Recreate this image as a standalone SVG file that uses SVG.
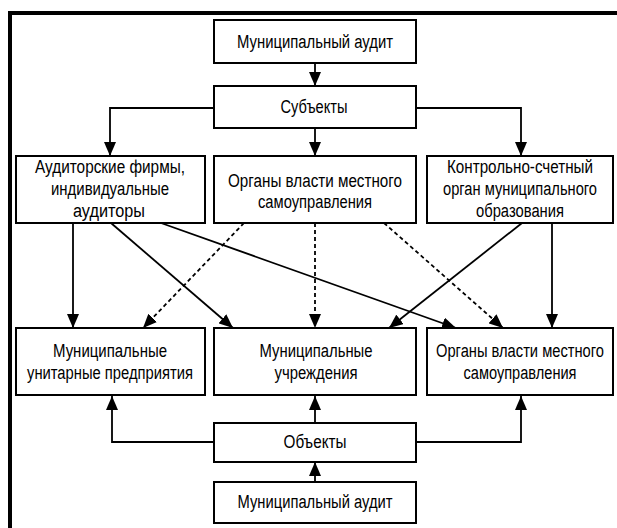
<svg xmlns="http://www.w3.org/2000/svg" width="617" height="528" viewBox="0 0 617 528">
<style>
.box{fill:#fff;stroke:#000;stroke-width:2}
.t{font-family:"Liberation Sans",Arial,sans-serif;font-size:18px;fill:#000;text-anchor:middle}
.c{fill:none;stroke:#000;stroke-width:1.8}
.d{fill:none;stroke:#000;stroke-width:1.8;stroke-dasharray:4 3}
</style>
<defs>
<marker id="a" markerUnits="userSpaceOnUse" markerWidth="15" markerHeight="12" refX="14" refY="6" orient="auto" viewBox="0 0 15 12">
<path d="M0,0 L14,6 L0,12 z" fill="#000"/>
</marker>
</defs>
<rect x="0" y="0" width="617" height="528" fill="#fff"/>
<g id="frame">
<path d="M10,528 L10,13 L617,13" fill="none" stroke="#000" stroke-width="4"/>
</g>
<g id="connectors">
<line class="c" x1="315" y1="63" x2="315" y2="86" marker-end="url(#a)"/>
<line class="c" x1="315" y1="128" x2="315" y2="156" marker-end="url(#a)"/>
<polyline class="c" points="214,108 110,108 110,156" marker-end="url(#a)"/>
<polyline class="c" points="416,108 521,108 521,156" marker-end="url(#a)"/>
<line class="c" x1="73" y1="223" x2="73" y2="328" marker-end="url(#a)"/>
<line class="c" x1="111" y1="223" x2="233" y2="328" marker-end="url(#a)"/>
<line class="c" x1="161" y1="223" x2="456" y2="328" marker-end="url(#a)"/>
<line class="d" x1="244" y1="223" x2="143" y2="328" marker-end="url(#a)"/>
<line class="d" x1="315" y1="223" x2="315" y2="328" marker-end="url(#a)"/>
<line class="d" x1="384" y1="223" x2="503" y2="328" marker-end="url(#a)"/>
<line class="c" x1="522" y1="223" x2="389" y2="328" marker-end="url(#a)"/>
<line class="c" x1="552" y1="223" x2="552" y2="328" marker-end="url(#a)"/>
<polyline class="c" points="214,442 112,442 112,396" marker-end="url(#a)"/>
<polyline class="c" points="416,442 521,442 521,396" marker-end="url(#a)"/>
<line class="c" x1="315" y1="423" x2="315" y2="396" marker-end="url(#a)"/>
<line class="c" x1="315" y1="482" x2="315" y2="462" marker-end="url(#a)"/>
</g>
<g id="n1"><rect class="box" x="214" y="20" width="202" height="43"/>
<text class="t" x="315" y="48" textLength="156" lengthAdjust="spacingAndGlyphs">Муниципальный аудит</text></g>
<g id="n2"><rect class="box" x="214" y="86" width="202" height="42"/>
<text class="t" x="314" y="113" textLength="67" lengthAdjust="spacingAndGlyphs">Субъекты</text></g>
<g id="n3"><rect class="box" x="16" y="156" width="189" height="67"/>
<text class="t" x="110" y="173" textLength="150" lengthAdjust="spacingAndGlyphs">Аудиторские фирмы,</text>
<text class="t" x="110" y="195" textLength="118" lengthAdjust="spacingAndGlyphs">индивидуальные</text>
<text class="t" x="109" y="217" textLength="72" lengthAdjust="spacingAndGlyphs">аудиторы</text></g>
<g id="n4"><rect class="box" x="214" y="156" width="202" height="67"/>
<text class="t" x="315" y="187" textLength="174" lengthAdjust="spacingAndGlyphs">Органы власти местного</text>
<text class="t" x="315" y="208" textLength="114" lengthAdjust="spacingAndGlyphs">самоуправления</text></g>
<g id="n5"><rect class="box" x="427" y="156" width="186" height="67"/>
<text class="t" x="520" y="173" textLength="146" lengthAdjust="spacingAndGlyphs">Контрольно-счетный</text>
<text class="t" x="520" y="195" textLength="154" lengthAdjust="spacingAndGlyphs">орган муниципального</text>
<text class="t" x="520" y="217" textLength="88" lengthAdjust="spacingAndGlyphs">образования</text></g>
<g id="n6"><rect class="box" x="16" y="328" width="189" height="67"/>
<text class="t" x="110" y="357" textLength="114" lengthAdjust="spacingAndGlyphs">Муниципальные</text>
<text class="t" x="110" y="379" textLength="166" lengthAdjust="spacingAndGlyphs">унитарные предприятия</text></g>
<g id="n7"><rect class="box" x="214" y="328" width="202" height="67"/>
<text class="t" x="316" y="357" textLength="113" lengthAdjust="spacingAndGlyphs">Муниципальные</text>
<text class="t" x="316" y="379" textLength="83" lengthAdjust="spacingAndGlyphs">учреждения</text></g>
<g id="n8"><rect class="box" x="427" y="328" width="186" height="67"/>
<text class="t" x="520" y="357" textLength="168" lengthAdjust="spacingAndGlyphs">Органы власти местного</text>
<text class="t" x="520" y="379" textLength="113" lengthAdjust="spacingAndGlyphs">самоуправления</text></g>
<g id="n9"><rect class="box" x="214" y="423" width="202" height="39"/>
<text class="t" x="315" y="448" textLength="63" lengthAdjust="spacingAndGlyphs">Объекты</text></g>
<g id="n10"><rect class="box" x="214" y="482" width="202" height="41"/>
<text class="t" x="315" y="508" textLength="155" lengthAdjust="spacingAndGlyphs">Муниципальный аудит</text></g>
</svg>
